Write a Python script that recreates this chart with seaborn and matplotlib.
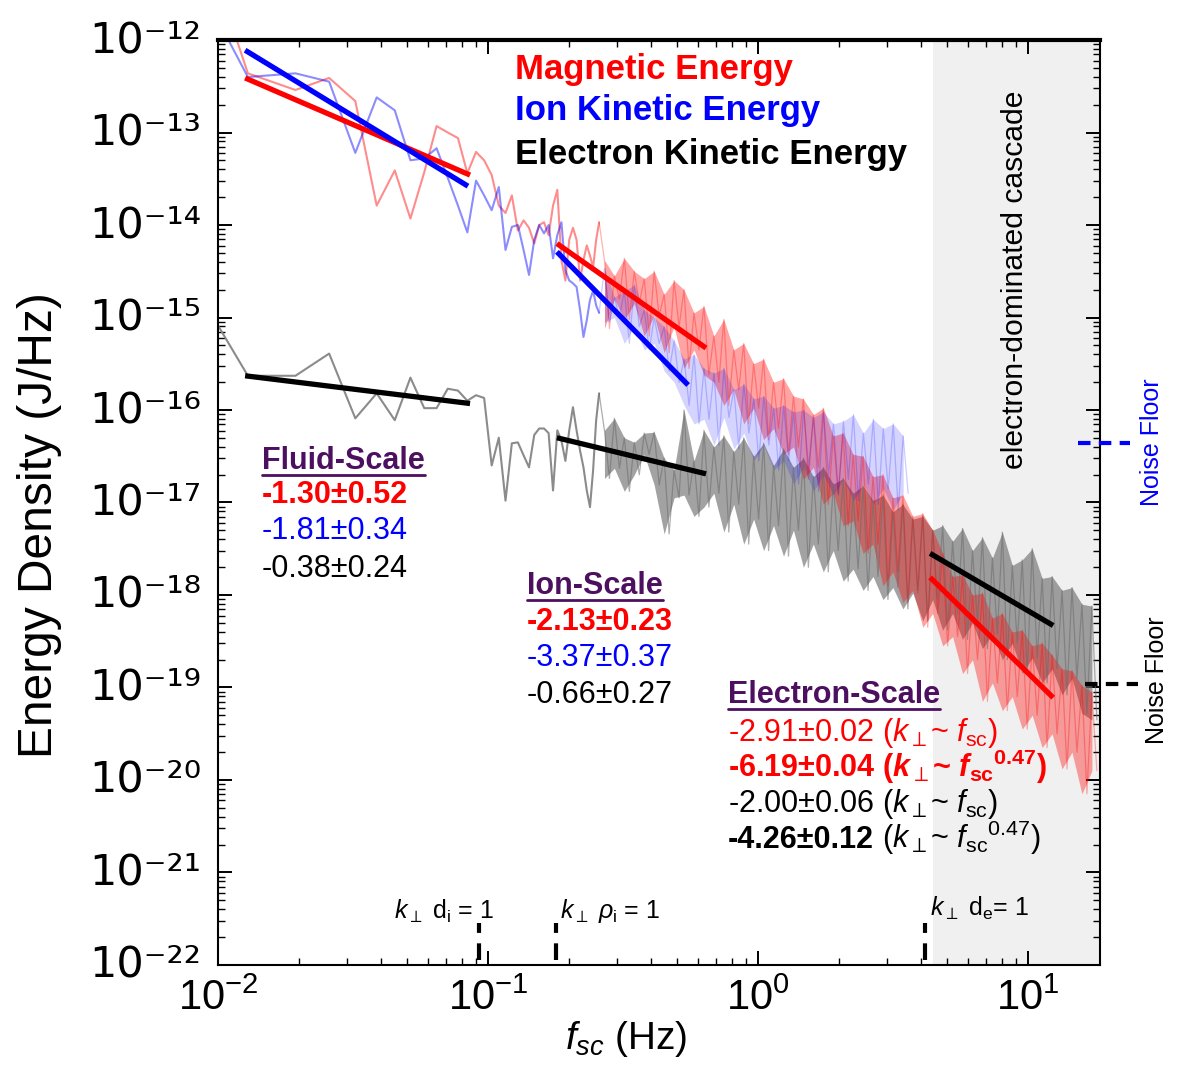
import numpy as np
import matplotlib
matplotlib.use("Agg")
import matplotlib.pyplot as plt
from matplotlib import font_manager
from matplotlib.ticker import LogLocator, NullFormatter, FuncFormatter, FixedLocator
import seaborn as sns

# spectra, log10 of energy density (J/Hz)
df_hz = 0.00645                 # spectral resolution of the low-frequency bins
bins = np.arange(1, 41)

mag_low = [-9.72, -12.36, -12.54, -12.41, -12.66, -13.79, -13.41, -13.93, -13.43, -12.93,
           -13.00, -13.06, -13.44, -13.21, -13.30, -13.46, -13.79, -13.87, -13.68, -14.06,
           -13.95, -14.03, -14.20, -14.00, -13.97, -14.11, -13.79, -13.62, -14.38, -14.60,
           -14.16, -14.03, -14.16, -14.60, -14.38, -14.22, -14.33, -14.46, -14.16, -13.97]
ion_low = [-10.73, -12.40, -12.36, -12.45, -13.22, -12.62, -12.76, -13.30, -13.28, -13.17,
           -13.49, -13.79, -14.08, -13.52, -13.68, -13.84, -13.59, -14.27, -14.02, -14.00,
           -14.27, -14.54, -14.16, -14.00, -14.09, -14.00, -14.36, -14.11, -13.97, -14.49,
           -14.60, -14.63, -14.67, -14.92, -15.21, -15.03, -14.81, -14.71, -14.87, -14.95]
ele_low = [-14.15, -15.63, -15.63, -15.39, -16.09, -15.82, -16.11, -15.65, -15.98, -15.98,
           -15.77, -15.79, -15.90, -15.84, -15.87, -16.60, -16.30, -16.98, -16.36, -16.35,
           -16.49, -16.62, -16.27, -16.20, -16.20, -16.25, -16.87, -16.22, -16.33, -16.55,
           -16.22, -15.97, -16.22, -16.44, -16.62, -16.87, -17.05, -16.65, -16.11, -15.82]

# densely sampled part: crest / trough pairs across the noisy band
f_dense = np.geomspace(0.27, 18.0, 100)
f_dense_ion = np.geomspace(0.27, 3.6, 62)
mag_high = [-14.38, -15.12, -14.55, -14.80, -14.36, -15.02, -14.50, -14.85, -14.58, -15.20,
            -14.50, -14.98, -14.75, -15.38, -14.60, -15.10, -14.70, -15.55, -14.95, -15.35,
            -14.88, -15.62, -15.20, -15.70, -15.02, -15.95, -15.35, -15.78, -15.28, -16.15,
            -15.50, -15.98, -15.45, -16.32, -15.70, -16.20, -15.66, -16.48, -15.85, -16.40,
            -15.88, -16.75, -16.05, -16.62, -15.98, -17.02, -16.28, -16.90, -16.25, -17.25,
            -16.48, -17.20, -16.50, -17.55, -16.72, -17.45, -16.70, -17.90, -16.95, -17.75,
            -16.92, -18.08, -17.15, -17.95, -17.12, -18.35, -17.30, -18.20, -17.55, -18.55,
            -17.80, -18.45, -17.78, -18.85, -18.00, -18.70, -17.98, -19.15, -18.25, -18.95,
            -18.20, -19.25, -18.40, -19.10, -18.38, -19.45, -18.55, -19.30, -18.52, -19.65,
            -18.65, -19.50, -18.80, -19.88, -18.82, -19.70, -18.98, -20.15, -19.05, -19.90]
ele_high = [-16.22, -16.74, -16.09, -16.63, -16.30, -16.88, -16.35, -16.70, -16.25, -16.48,
            -16.24, -16.81, -16.52, -17.34, -16.65, -16.95, -16.00, -16.92, -16.55, -17.15,
            -16.22, -17.05, -16.40, -16.90, -16.28, -17.32, -16.45, -17.02, -16.30, -17.45,
            -16.50, -17.18, -16.36, -17.52, -16.60, -17.25, -16.42, -17.58, -16.62, -17.30,
            -16.52, -17.70, -16.72, -17.45, -16.62, -17.75, -16.80, -17.52, -16.74, -17.85,
            -16.90, -17.72, -16.82, -17.95, -16.98, -17.80, -16.92, -18.05, -17.10, -17.92,
            -17.02, -18.15, -17.18, -17.98, -17.15, -18.28, -17.30, -18.05, -17.25, -18.38,
            -17.42, -18.20, -17.28, -18.48, -17.52, -18.30, -17.38, -18.58, -17.60, -18.42,
            -17.32, -18.70, -17.68, -18.52, -17.62, -18.85, -17.50, -18.68, -17.82, -18.95,
            -17.80, -18.80, -17.95, -19.08, -17.92, -18.90, -18.10, -19.28, -18.12, -19.35]
ion_high = [-14.47, -15.05, -14.78, -15.00, -14.71, -15.28, -14.65, -15.10, -14.92, -15.35,
            -15.00, -15.28, -15.10, -15.58, -15.25, -15.70, -15.45, -15.95, -15.40, -16.15,
            -15.55, -16.10, -15.60, -16.38, -15.55, -16.08, -15.78, -16.42, -15.72, -16.25,
            -15.88, -16.55, -15.85, -16.38, -15.98, -16.65, -15.95, -16.55, -16.02, -16.80,
            -16.00, -16.62, -16.08, -16.88, -16.02, -16.70, -16.15, -16.92, -16.12, -16.75,
            -16.05, -16.98, -16.25, -16.80, -16.10, -17.02, -16.20, -16.85, -16.15, -17.08,
            -16.28, -16.90]

# power-law fits: frequency range (Hz) and log10 energy at both ends
fit_mag_fluid = ([0.0126, 0.0858], [-12.41, -13.46])
fit_ion_fluid = ([0.0126, 0.0843], [-12.11, -13.58])
fit_ele_fluid = ([0.0126, 0.0858], [-15.63, -15.93])
fit_mag_ion = ([0.180, 0.642], [-14.20, -15.33])
fit_ion_ion = ([0.180, 0.551], [-14.29, -15.73])
fit_ele_ion = ([0.180, 0.642], [-16.30, -16.69])
fit_ele_elec = ([4.34, 12.4], [-17.55, -18.33])
fit_mag_elec = ([4.34, 12.4], [-17.81, -19.11])

scale_marks = [0.0927, 0.1787, 4.16]       # k d_i = 1, k rho_i = 1, k d_e = 1
cascade_start = 4.45
noise_ion = -16.36
noise_ele = -18.96
x_decades = [-2, -1, 0, 1]
y_decades = list(range(-22, -11))

RED, BLUE, PURPLE = "#ff0000", "#0000ff", "#4d0f5f"

sns.set_style("ticks", {"axes.edgecolor": "black", "xtick.color": "black",
                        "ytick.color": "black", "text.color": "black",
                        "axes.labelcolor": "black"})
names = {f.name for f in font_manager.fontManager.ttflist}
if "Liberation Sans Narrow" in names:
    NARROW, nsc = "Liberation Sans Narrow", 1.0
else:
    NARROW, nsc = "Liberation Sans", 0.82
plt.rcParams["font.family"] = ["Liberation Sans", "DejaVu Sans"]
plt.rcParams["mathtext.fontset"] = "custom"
plt.rcParams["mathtext.rm"] = "Liberation Sans"
plt.rcParams["mathtext.it"] = "Liberation Sans:italic"
plt.rcParams["mathtext.bf"] = "Liberation Sans:bold"
if "mathtext.bfit" in plt.rcParams:
    plt.rcParams["mathtext.bfit"] = "Liberation Sans:italic:bold"

fig = plt.figure(figsize=(11.83, 10.88), dpi=100)
ax = fig.add_axes([0.1843, 0.1131, 0.7456, 0.8501])
ax.set_xscale("log")
ax.set_yscale("log")
XMAX = 18.5
ax.axvspan(cascade_start, XMAX, color="#f0f0f0", lw=0, zorder=0)

f_low = df_hz * bins


def spectrum(lo, hi, fd, c_lo, c_hi, a_lo, a_hi, a_fill):
    lo = np.array(lo)
    hi = np.array(hi)
    sns.lineplot(x=f_low, y=10 ** lo, color=c_lo, alpha=a_lo, linewidth=1.5,
                 estimator=None, sort=False, ax=ax)
    xs = np.concatenate([f_low[-1:], fd])
    ys = np.concatenate([lo[-1:], hi])
    sns.lineplot(x=xs, y=10 ** ys, color=c_hi, alpha=a_hi, linewidth=0.9,
                 estimator=None, sort=False, ax=ax)
    ax.fill_between(fd[::2], 10 ** hi[::2], 10 ** hi[1::2], color=c_hi,
                    alpha=a_fill, lw=0)


spectrum(ele_low, ele_high, f_dense, "#858585", "#6a6a6a", 0.95, 0.55, 0.62)
spectrum(mag_low, mag_high, f_dense, RED, RED, 0.45, 0.3, 0.36)
spectrum(ion_low, ion_high, f_dense_ion, BLUE, BLUE, 0.45, 0.2, 0.17)

for (fx, ly), c in [(fit_mag_fluid, RED), (fit_ion_fluid, BLUE), (fit_ele_fluid, "k"),
                    (fit_mag_ion, RED), (fit_ion_ion, BLUE), (fit_ele_ion, "k"),
                    (fit_ele_elec, "k"), (fit_mag_elec, RED)]:
    ax.plot(fx, 10 ** np.array(ly), color=c, lw=3.8, solid_capstyle="butt", zorder=5)

# characteristic scales
for fm in scale_marks:
    ax.plot([fm, fm], [10 ** -21.95, 10 ** -21.55], color="k", lw=3,
            ls=(0, (4, 2.5)), zorder=6)
xt = ax.get_xaxis_transform()
ax.text(0.0449, 0.058, r"$k_{\perp}$ d$_{\rm i}$ = 1", transform=xt, fontsize=18, va="center")
ax.text(0.185, 0.058, r"$k_{\perp}$ $\rho_{\rm i}$ = 1", transform=xt, fontsize=18, va="center")
ax.text(4.34, 0.061, r"$k_{\perp}$ d$_{\rm e}$= 1", transform=xt, fontsize=18, va="center")

ax.set_xlim(0.01, XMAX)
ax.set_ylim(1e-22, 1e-12)
ax.xaxis.set_major_locator(FixedLocator([10.0 ** e for e in x_decades]))
ax.yaxis.set_major_locator(FixedLocator([10.0 ** e for e in y_decades]))
for axis in (ax.xaxis, ax.yaxis):
    axis.set_minor_locator(LogLocator(base=10, subs=np.arange(2, 10), numticks=200))
    axis.set_minor_formatter(NullFormatter())

SUP = str.maketrans("-0123456789", "⁻⁰¹²³⁴⁵⁶⁷⁸⁹")
ax.yaxis.set_major_formatter(FuncFormatter(
    lambda v, p: "10" + str(int(round(np.log10(v)))).translate(SUP)))
ax.xaxis.set_major_formatter(FuncFormatter(
    lambda v, p: r"$\mathdefault{10^{%d}}$" % int(round(np.log10(v)))))
ax.tick_params(which="both", direction="in", top=True, right=True)
ax.tick_params(which="major", length=10, width=1.4)
ax.tick_params(which="minor", length=5, width=1)
ax.tick_params(axis="y", labelsize=31, pad=12, labelfontfamily="DejaVu Sans")
ax.tick_params(axis="x", labelsize=30, pad=10, labelfontfamily=NARROW)
plt.setp(ax.get_yticklabels(), va="center")
for s in ax.spines.values():
    s.set_linewidth(1.5)
ax.spines["top"].set_linewidth(3)

ax.set_ylabel("Energy Density (J/Hz)", fontsize=42 * nsc, family=NARROW)
ax.yaxis.set_label_coords(-0.177, 0.476)
ax.set_xlabel(r"$f_{sc}$ (Hz)", fontsize=34 * nsc, family=NARROW)
ax.xaxis.set_label_coords(0.4626, -0.058)

# legend-like labels
for y, s, c in [(0.968, "Magnetic Energy", RED), (0.924, "Ion Kinetic Energy", BLUE),
                (0.876, "Electron Kinetic Energy", "k")]:
    ax.text(0.337, y, s, color=c, weight="bold", fontsize=25, va="center",
            transform=ax.transAxes)

ax.text(0.904, 0.741, "electron-dominated cascade", rotation=90, fontsize=26.5 * nsc,
        family=NARROW, ha="center", va="center", transform=ax.transAxes)

# noise floors outside the frame
yt = ax.get_yaxis_transform()
ax.plot([0.975, 1.034], [10 ** noise_ion] * 2, transform=yt, color=BLUE, lw=3,
        ls=(0, (3, 2)), clip_on=False, zorder=7)
ax.plot([0.983, 1.043], [10 ** noise_ele] * 2, transform=yt, color="k", lw=3,
        ls=(0, (3, 2)), clip_on=False, zorder=7)
ax.text(1.059, 0.565, "Noise Floor", color=BLUE, rotation=90, fontsize=22 * nsc,
        family=NARROW, ha="center", va="center", transform=ax.transAxes)
ax.text(1.065, 0.308, "Noise Floor", color="k", rotation=90, fontsize=22 * nsc,
        family=NARROW, ha="center", va="center", transform=ax.transAxes)

FS = 22


def txt(x, y, s, **kw):
    return ax.text(x, y, s, fontsize=FS, va="baseline", transform=ax.transAxes, **kw)


def underline(t):
    fig.canvas.draw()
    bb = t.get_window_extent()
    _, yb = ax.transAxes.transform(t.get_position())
    inv = fig.transFigure.inverted()
    (x0, y0), (x1, _) = inv.transform([(bb.x0, yb - 6), (bb.x1, yb - 6)])
    fig.add_artist(plt.Line2D([x0, x1], [y0, y0], color=PURPLE, lw=2,
                              transform=fig.transFigure))


def after(t, s, **kw):
    fig.canvas.draw()
    bb = t.get_window_extent()
    x, _ = ax.transAxes.inverted().transform((bb.x1, bb.y0))
    return txt(x, t.get_position()[1], s, **kw)


underline(txt(0.0499, 0.5362, "Fluid-Scale", color=PURPLE, weight="bold"))
txt(0.0499, 0.4995, "-1.30±0.52", color=RED, weight="bold")
txt(0.0499, 0.4605, "-1.81±0.34", color=BLUE)
txt(0.0499, 0.4195, "-0.38±0.24", color="k")

underline(txt(0.3503, 0.4011, "Ion-Scale", color=PURPLE, weight="bold"))
txt(0.3503, 0.3622, "-2.13±0.23", color=RED, weight="bold")
txt(0.3503, 0.3232, "-3.37±0.37", color=BLUE)
txt(0.3503, 0.2832, "-0.66±0.27", color="k")

underline(txt(0.5782, 0.2832, "Electron-Scale", color=PURPLE, weight="bold"))
txt(0.5782, 0.2422, r"-2.91±0.02 ($k_{\perp}$~ $f_{\rm sc}$)", color=RED)
txt(0.5782, 0.2032,
    r"-6.19±0.04 ($\mathbfit{k}_{\perp}$~ $\mathbfit{f}_{\mathbf{sc}}{}^{\mathbf{0.47}}$)",
    color=RED, weight="bold")
txt(0.5782, 0.1654, r"-2.00±0.06 ($k_{\perp}$~ $f_{\rm sc}$)", color="k")
t4 = txt(0.5782, 0.1265, "-4.26±0.12", color="k", weight="bold")
after(t4, r" ($k_{\perp}$~ $f_{\rm sc}{}^{0.47}$)", color="k")

fig.savefig("out.png", dpi=100)
